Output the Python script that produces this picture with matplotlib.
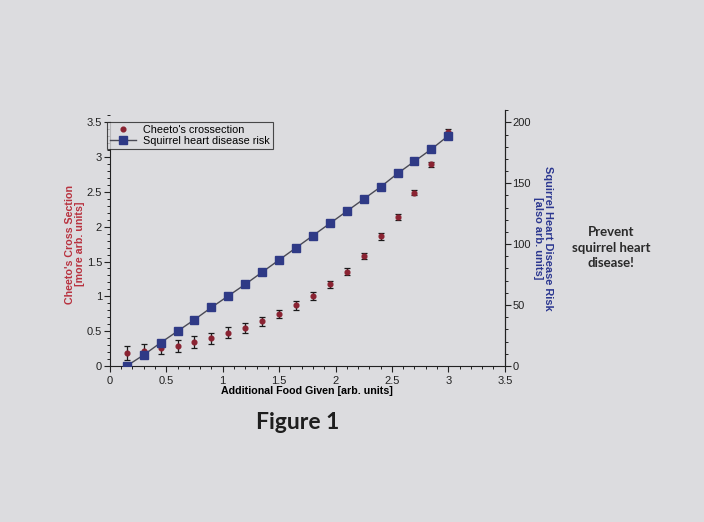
"""Recreation of the photographed 'Figure 1' (Cheeto cross section vs squirrel risk)."""
import matplotlib
matplotlib.use("Agg")
import matplotlib.pyplot as plt
from matplotlib.ticker import MultipleLocator

plt.rcParams["font.family"] = ["Liberation Sans", "DejaVu Sans"]

# data
food = [0.15, 0.30, 0.45, 0.60, 0.75, 0.90, 1.05, 1.20, 1.35, 1.50,
        1.65, 1.80, 1.95, 2.10, 2.25, 2.40, 2.55, 2.70, 2.85, 3.00]
cheeto = [0.18, 0.21, 0.26, 0.29, 0.34, 0.40, 0.48, 0.55, 0.64, 0.75,
          0.87, 1.00, 1.17, 1.35, 1.58, 1.86, 2.14, 2.49, 2.90, 3.36]
cheeto_err = [0.10, 0.10, 0.09, 0.085, 0.085, 0.08, 0.075, 0.07, 0.065, 0.06,
              0.06, 0.055, 0.05, 0.05, 0.045, 0.045, 0.04, 0.04, 0.035, 0.04]
risk = [0, 9, 19, 28.5, 38, 48, 57.5, 67, 77, 87,
        97, 107, 117, 127, 137, 147, 158, 168, 178, 189]
tick_vals = [0, 0.5, 1, 1.5, 2, 2.5, 3, 3.5]
tick_text = ["0", "0.5", "1", "1.5", "2", "2.5", "3", "3.5"]

PAPER = "#dcdcdf"
RED = "#8a2332"
RED_LABEL = "#b8323f"
BLUE = "#2f3a86"
BLUE_LABEL = "#2b3790"

fig = plt.figure(figsize=(7.04, 5.22), dpi=100, facecolor=PAPER)
ax = fig.add_axes([0.156, 0.299, 0.561, 0.490])
ax.set_facecolor("none")
ax2 = ax.twinx()
ax2.set_facecolor("none")

# left axis: red points with error bars
ax.errorbar(food, cheeto, yerr=cheeto_err, fmt="none", ecolor="#1a1a1a",
            elinewidth=0.9, capsize=2.2, capthick=0.9, zorder=3)
h1, = ax.plot(food, cheeto, "o", color=RED, ms=3.4, ls="none",
              label="Cheeto's crossection", zorder=4)

# right axis: squares joined by a line
h2, = ax2.plot(food, risk, "-s", color="#4a4a55", mfc=BLUE, mec=BLUE,
               ms=5.5, lw=1.0, label="Squirrel heart disease risk")

ax.set_xlim(0, 3.5)
ax.set_ylim(0, 3.5 * 210 / 200)   # left axis drawn only up to 3.5
ax2.set_ylim(0, 210)
ax.spines["left"].set_bounds(0, 3.5)
for a in (ax, ax2):
    a.spines["top"].set_visible(False)
ax2.spines["left"].set_visible(False)
ax2.spines["bottom"].set_visible(False)

ax.set_xticks(tick_vals)
ax.set_xticklabels(tick_text)
ax.set_yticks(tick_vals)
ax.set_yticklabels(tick_text)
ax.xaxis.set_minor_locator(MultipleLocator(0.1))
ax.yaxis.set_minor_locator(MultipleLocator(0.1))
ax2.yaxis.set_major_locator(MultipleLocator(50))
ax2.yaxis.set_minor_locator(MultipleLocator(10))

for a in (ax, ax2):
    a.tick_params(which="major", length=4, width=0.8, labelsize=8, pad=1.5,
                  colors="#222222")
    a.tick_params(which="minor", length=2, width=0.7, colors="#222222")
    for s in a.spines.values():
        s.set_linewidth(0.8)
        s.set_color("#222222")
ax.tick_params(axis="x", which="major", pad=3.5)

ax.set_xlabel("Additional Food Given [arb. units]", fontsize=7.7,
              fontweight="bold", labelpad=0)
ax.set_ylabel("Cheeto's Cross Section\n[more arb. units]", fontsize=7.7,
              fontweight="bold", color=RED_LABEL, linespacing=1.0)
ax.yaxis.set_label_coords(-0.062, 0.476)
ax2.set_ylabel("Squirrel Heart Disease Risk\n[also arb. units]", fontsize=7.9,
               fontweight="bold", color=BLUE_LABEL, rotation=-90,
               va="bottom", ha="center", linespacing=1.0)
ax2.yaxis.set_label_coords(1.072, 0.5)

leg = ax2.legend(handles=[h1, h2], loc="upper left",
                 bbox_to_anchor=(-0.008, 0.955), borderaxespad=0,
                 fontsize=7.8, frameon=True, fancybox=False,
                 handlelength=2.4, borderpad=0.3, labelspacing=0.1,
                 handletextpad=0.7)
leg.get_frame().set_edgecolor("#222222")
leg.get_frame().set_linewidth(0.8)
leg.get_frame().set_facecolor(PAPER)

fig.text(0.868, 0.525, "Prevent\nsquirrel heart\ndisease!", ha="center",
         va="center", fontsize=9.5, fontweight="bold", color="#2a2a2a",
         family=["Lato", "DejaVu Sans"], linespacing=1.35)
fig.text(0.423, 0.19, "Figure 1", ha="center", va="center", fontsize=16.5,
         fontweight="bold", color="#1e1e1e", family=["Lato", "DejaVu Sans"])

fig.savefig("out.png", dpi=100, facecolor=PAPER)
